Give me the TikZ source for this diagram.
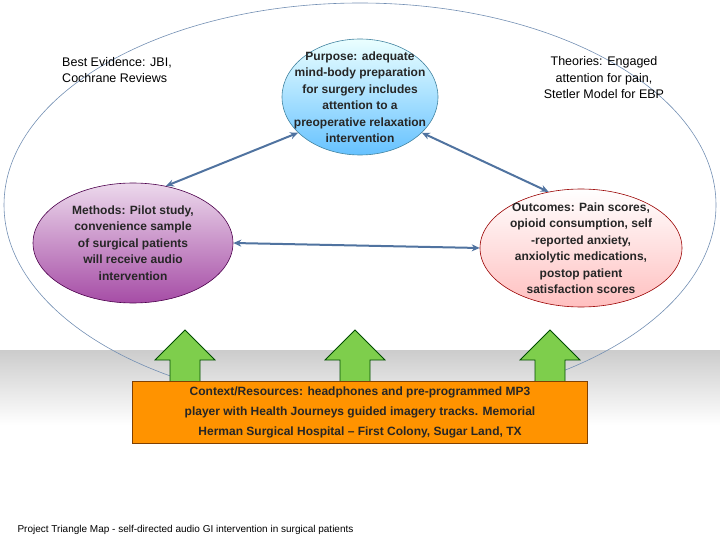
\documentclass[tikz,border=0pt]{standalone}
\usepackage{fontspec}
\setmainfont{Liberation Sans}
\usetikzlibrary{shapes.geometric,arrows.meta}
\definecolor{steel}{RGB}{80,115,160}
\begin{document}
\begin{tikzpicture}[x=1pt,y=-1pt,
  txt/.style={align=center,font=\fontsize{12.5}{16.5}\selectfont},
  btxt/.style={align=center,font=\bfseries\fontsize{12}{16.5}\selectfont,text=black!85},
  bub/.style={ellipse,draw=#1!60!black,line width=0.6pt},
  conn/.style={{Stealth[length=8pt,width=7pt]}-{Stealth[length=8pt,width=7pt]},draw=steel,line width=2pt},
  up/.style={fill=green!45!olive!70,draw=green!30!black,line width=0.8pt}]
\useasboundingbox (0,0) rectangle (720,540);
\fill[top color=gray!40,bottom color=white] (0,350) rectangle (720,425);
\draw[steel!80,line width=0.6pt] (360,205) ellipse [x radius=356,y radius=202];
\node[bub=cyan,minimum width=156pt,minimum height=116pt,top color=cyan!8,bottom color=cyan!60!blue!60] (p) at (360,97) {};
\node[btxt] at (p) {Purpose: adequate\\mind-body preparation\\for surgery includes\\attention to a\\preoperative relaxation\\intervention};
\node[bub=violet,minimum width=200pt,minimum height=120pt,top color=violet!15,bottom color=violet!70] (m) at (133,243) {};
\node[btxt] at (m) {Methods: Pilot study,\\convenience sample\\of surgical patients\\will receive audio\\intervention};
\node[bub=red,minimum width=202pt,minimum height=118pt,top color=white,bottom color=red!25] (o) at (581,248) {};
\node[btxt] at (o) {Outcomes: Pain scores,\\opioid consumption, self\\-reported anxiety,\\anxiolytic medications,\\postop patient\\satisfaction scores};
\node[txt,align=left] (be) at (117,70) {Best Evidence: JBI,\\Cochrane Reviews};
\node[txt] (th) at (604,78) {Theories: Engaged\\attention for pain,\\Stetler Model for EBP};
\draw[conn] (m.60) -- (p.210);
\draw[conn] (p.-30) -- (o.120);
\draw[conn] (m.east) -- (o.west);
\foreach \n/\x in {a1/185,a2/355,a3/550}{
  \coordinate (\n) at (\x,330);
  \draw[up] (\x-15,385) -- (\x-15,360) -- (\x-30,360) -- (\n) -- (\x+30,360) -- (\x+15,360) -- (\x+15,385) -- cycle;}
\node[btxt,draw=orange!50!black,fill=orange!85!yellow,minimum width=455pt,minimum height=62pt,font=\bfseries\fontsize{12}{20}\selectfont] (c) at (360,412) {Context/Resources: headphones and pre-programmed MP3\\player with Health Journeys guided imagery tracks. Memorial\\Herman Surgical Hospital -- First Colony, Sugar Land, TX};
\node[anchor=west,font=\fontsize{10}{12}\selectfont] (cap) at (14,530) {Project Triangle Map - self-directed audio GI intervention in surgical patients};
\end{tikzpicture}
\end{document}
